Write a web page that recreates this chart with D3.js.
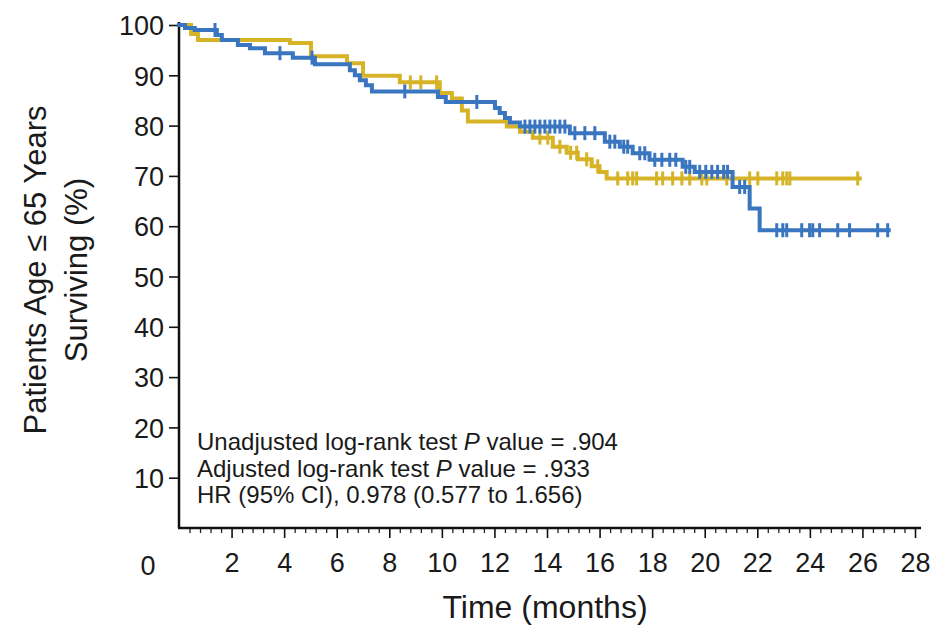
<!DOCTYPE html>
<html>
<head>
<meta charset="utf-8">
<script src="https://cdn.jsdelivr.net/npm/d3@7"></script>
<style>
  html, body { margin: 0; padding: 0; background: #fff; }
  svg text { font-family: "Liberation Sans", Arial, Helvetica, sans-serif; fill: #1a1a1a; }
</style>
</head>
<body>
<svg id="chart" width="940" height="630"></svg>
<script>
// Kaplan-Meier steps: [time (months), survival (%)]
const goldSteps = [
  [0, 100], [0.46, 98.2], [0.72, 97.0], [4.22, 96.4], [5.02, 93.8], [6.39, 92.4],
  [7.0, 89.9], [8.4, 88.6], [9.92, 86.5], [10.38, 85.4], [10.76, 83.0], [10.99, 80.8],
  [12.47, 79.8], [12.97, 78.8], [13.46, 77.6], [14.22, 75.8], [14.75, 74.6],
  [15.17, 73.3], [15.7, 71.9], [16.0, 70.8], [16.27, 69.5]
];
const goldEnd = 25.9;
const goldCensored = [
  8.8, 9.2, 9.8, 13.73, 14.03, 14.49, 14.9, 15.13, 15.51, 15.93, 16.69, 17.07, 17.26,
  17.41, 18.17, 18.4, 18.78, 19.13, 19.43, 19.89, 20.08, 20.84, 21.71, 22.02, 22.74,
  22.97, 23.12, 23.24, 25.82
];

const blueSteps = [
  [0, 100], [0.23, 99.4], [0.6, 99.0], [1.44, 98.0], [1.63, 97.0], [2.24, 96.0],
  [2.7, 95.4], [3.27, 94.4], [4.33, 93.5], [5.17, 92.2], [6.5, 91.0], [6.69, 90.0],
  [6.88, 89.0], [7.11, 88.0], [7.34, 86.8], [9.85, 85.7], [10.15, 84.7], [12.02, 83.5],
  [12.2, 82.5], [12.4, 81.5], [12.59, 80.6], [12.97, 79.8], [14.87, 78.5], [16.2, 76.8],
  [16.77, 75.8], [17.26, 74.5], [17.9, 73.2], [19.16, 71.8], [19.62, 70.8], [21.06, 67.8],
  [21.71, 63.5], [22.09, 59.2]
];
const blueEnd = 27.0;
const blueCensored = [
  1.37, 3.84, 5.06, 8.59, 11.33, 13.16, 13.35, 13.54, 13.73, 13.92, 14.11, 14.3, 14.49,
  14.68, 15.06, 15.44, 15.82, 16.39, 16.58, 16.92, 17.07, 17.53, 17.72, 18.1, 18.37,
  18.67, 18.9, 19.28, 19.43, 19.81, 20.04, 20.27, 20.49, 20.72, 20.87, 21.33, 21.52,
  22.74, 22.97, 23.12, 23.69, 23.99, 24.11, 24.37, 25.06, 25.51, 26.58, 26.96
];

const xTicks = [2, 4, 6, 8, 10, 12, 14, 16, 18, 20, 22, 24, 26, 28];
const yTicks = [10, 20, 30, 40, 50, 60, 70, 80, 90, 100];
const statLines = [
  ["Unadjusted log-rank test ", "P", " value = .904"],
  ["Adjusted log-rank test ", "P", " value = .933"],
  ["HR (95% CI), 0.978 (0.577 to 1.656)"]
];

const GOLD = "#D6B327";
const BLUE = "#3A76C0";

const svg = d3.select("#chart");
const x = d3.scaleLinear().domain([0, 28]).range([179, 915]);
const y = d3.scaleLinear().domain([0, 100]).range([528, 25]);

// axes
const yAxis = svg.append("g")
  .attr("transform", `translate(${x(0)},0)`)
  .call(d3.axisLeft(y).tickValues(yTicks).tickSize(10).tickPadding(5).tickSizeOuter(0));
yAxis.attr("font-size", null).attr("font-family", null);
yAxis.select(".domain").attr("stroke", "#111").attr("stroke-width", 2.5).attr("d", `M0,${y(0)}V${y(100) - 3}`);
yAxis.selectAll(".tick line").attr("stroke", "#111").attr("stroke-width", 1.6);
yAxis.selectAll(".tick text").style("font-size", "27px").attr("dy", "0.36em").attr("fill", "#1a1a1a");

const minorTicks = d3.range(0, 141).map(i => i * 0.2).filter((t, i) => i % 2 === 0 && (i % 10) !== 0 && t <= 28);
const xMinor = svg.append("g")
  .attr("transform", `translate(0,${y(0)})`)
  .call(d3.axisBottom(x).tickValues(minorTicks).tickSize(5).tickFormat("").tickSizeOuter(0));
xMinor.select(".domain").remove();
xMinor.selectAll(".tick line").attr("stroke", "#222").attr("stroke-width", 1.3);

const xAxis = svg.append("g")
  .attr("transform", `translate(0,${y(0)})`)
  .call(d3.axisBottom(x).tickValues(xTicks).tickSize(10).tickPadding(15).tickSizeOuter(0));
xAxis.attr("font-size", null).attr("font-family", null);
xAxis.select(".domain").attr("stroke", "#111").attr("stroke-width", 2.5).attr("d", `M${x(0) - 1},0H${x(28) + 6}`);
xAxis.selectAll(".tick line").attr("stroke", "#111").attr("stroke-width", 1.6);
xAxis.selectAll(".tick text").style("font-size", "27px").attr("fill", "#1a1a1a");

// shared origin label
svg.append("text").attr("x", x(0) - 31).attr("y", 575)
  .attr("text-anchor", "middle").style("font-size", "27px").text("0");

// axis titles
svg.append("text").attr("x", 545).attr("y", 618).attr("text-anchor", "middle")
  .style("font-size", "32px").text("Time (months)");
const yTitle = svg.append("text").attr("transform", "translate(0,270) rotate(-90)")
  .attr("text-anchor", "middle").style("font-size", "31px");
yTitle.append("tspan").attr("x", 0).attr("y", 46).text("Patients Age \u2264 65 Years");
yTitle.append("tspan").attr("x", 0).attr("y", 87).text("Surviving (%)");

// survival curves
function stepValue(steps, t) {
  let v = steps[0][1];
  for (const s of steps) { if (s[0] <= t) v = s[1]; }
  return v;
}
const line = d3.line().x(d => x(d[0])).y(d => y(d[1])).curve(d3.curveStepAfter);

function drawCurve(steps, end, censored, color) {
  const pts = steps.concat([[end, steps[steps.length - 1][1]]]);
  svg.append("path").datum(pts).attr("d", line)
    .attr("fill", "none").attr("stroke", color).attr("stroke-width", 4)
    .attr("stroke-linejoin", "miter").attr("stroke-linecap", "square");
  svg.append("g").selectAll("line").data(censored).join("line")
    .attr("x1", d => x(d)).attr("x2", d => x(d))
    .attr("y1", d => y(stepValue(steps, d)) - 7)
    .attr("y2", d => y(stepValue(steps, d)) + 7)
    .attr("stroke", color).attr("stroke-width", 3);
}
drawCurve(goldSteps, goldEnd, goldCensored, GOLD);
drawCurve(blueSteps, blueEnd, blueCensored, BLUE);

// test statistics
const stats = svg.append("g").style("font-size", "24px");
statLines.forEach((parts, i) => {
  const t = stats.append("text").attr("x", 197).attr("y", 450 + i * 26.5);
  parts.forEach(p => {
    const ts = t.append("tspan").text(p);
    if (p === "P") ts.style("font-style", "italic");
  });
});
</script>
</body>
</html>
